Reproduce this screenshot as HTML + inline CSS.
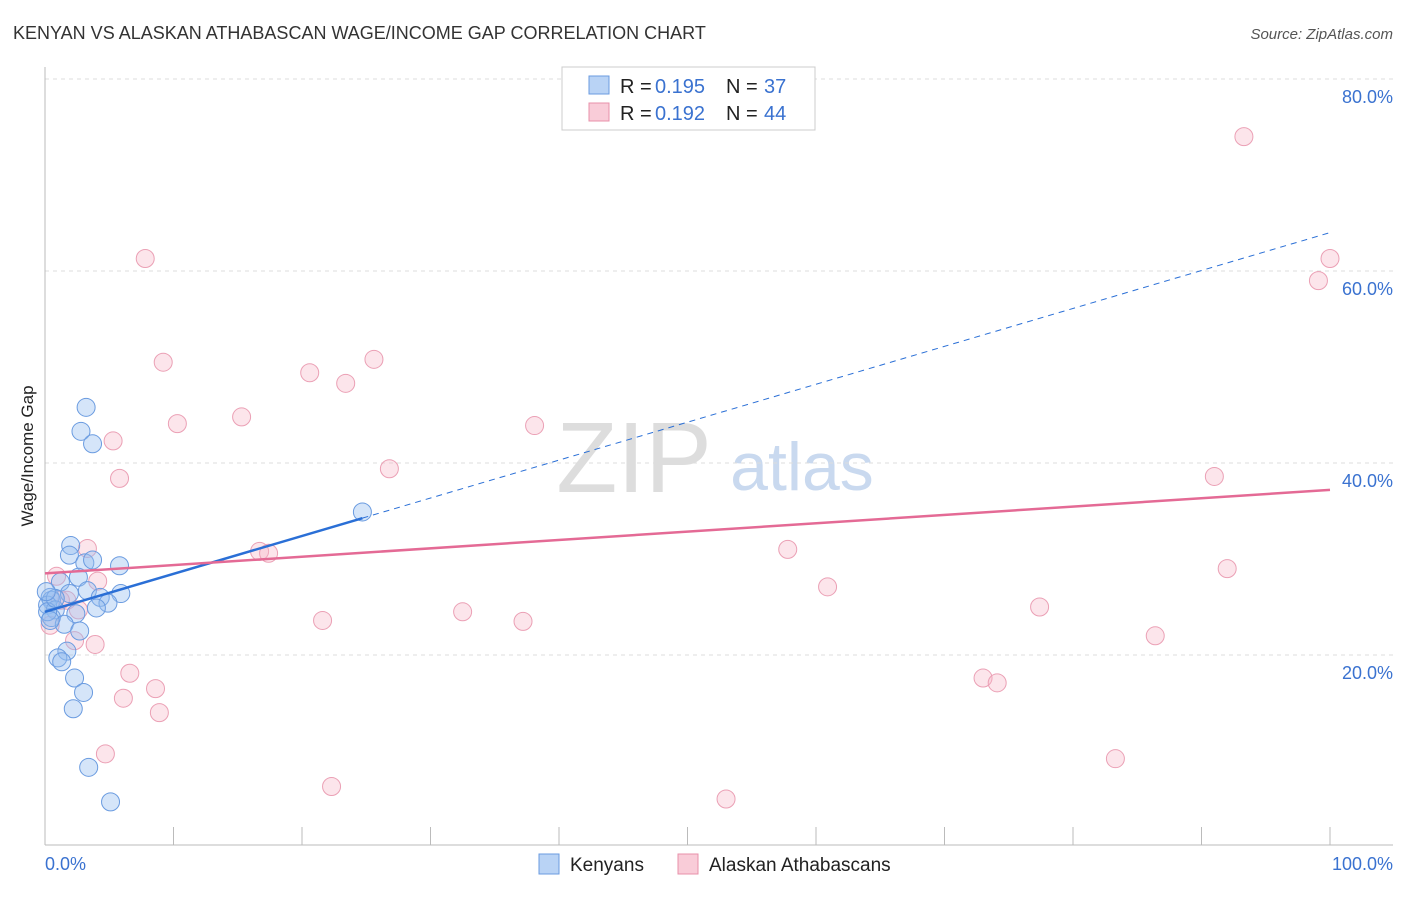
<!DOCTYPE html>
<html><head><meta charset="utf-8"><style>
body{margin:0;background:#fff;font-family:"Liberation Sans",sans-serif}
svg text{font-family:"Liberation Sans",sans-serif}
</style></head><body>
<svg id="c" width="1406" height="892">
<text x="13" y="39" font-size="18" fill="#333">KENYAN VS ALASKAN ATHABASCAN WAGE/INCOME GAP CORRELATION CHART</text>
<text x="1393" y="39" font-size="15" fill="#555" font-style="italic" text-anchor="end">Source: ZipAtlas.com</text>
<text x="33" y="456" font-size="17" fill="#222" text-anchor="middle" transform="rotate(-90 33 456)">Wage/Income Gap</text>
<text x="634" y="492" font-size="100" fill="#ddd" font-family="Liberation Serif" text-anchor="middle">ZIP</text>
<text x="802" y="490" font-size="68" fill="#c9d9ef" text-anchor="middle">atlas</text>
<g id="grid"></g><g id="marks"></g>
<g>
<rect x="562" y="67" width="253" height="63" fill="#fff" stroke="#ccc"/>
<rect x="589" y="76" width="20" height="18" fill="#b9d3f5" stroke="#6a9be0"/>
<text x="620" y="93" font-size="20" fill="#222">R = </text>
<text x="655" y="93" font-size="20" fill="#3a72d0">0.195</text>
<text x="726" y="93" font-size="20" fill="#222">N = </text>
<text x="764" y="93" font-size="20" fill="#3a72d0">37</text>
<rect x="589" y="103" width="20" height="18" fill="#f9ccd8" stroke="#e890aa"/>
<text x="620" y="120" font-size="20" fill="#222">R = </text>
<text x="655" y="120" font-size="20" fill="#3a72d0">0.192</text>
<text x="726" y="120" font-size="20" fill="#222">N = </text>
<text x="764" y="120" font-size="20" fill="#3a72d0">44</text>
</g>
<g>
<rect x="539" y="854" width="20" height="20" fill="#b9d3f5" stroke="#6a9be0"/>
<text x="570" y="871" font-size="19" fill="#222">Kenyans</text>
<rect x="678" y="854" width="20" height="20" fill="#f9ccd8" stroke="#e890aa"/>
<text x="709" y="871" font-size="19" fill="#222">Alaskan Athabascans</text>
</g>
</svg>
<script>
const kenX=[3.2,2.8,3.7,24.7,2.0,1.9,3.1,3.7,5.8,2.6,1.2,3.3,1.9,5.9,4.3,4.9,4.0,0.4,0.5,0.2,0.8,2.4,0.5,1.5,2.7,1.7,1.0,1.3,2.3,3.0,2.2,3.4,5.1,0.2,0.8,0.4,0.1];
const kenY=[45.8,43.3,42.0,34.9,31.4,30.4,29.6,29.9,29.3,28.1,27.6,26.7,26.4,26.4,26.0,25.4,24.9,26.0,25.7,25.2,24.7,24.3,23.9,23.2,22.5,20.4,19.7,19.3,17.6,16.1,14.4,8.3,4.7,24.5,25.9,23.6,26.6];
const athX=[7.8,9.2,10.3,15.3,20.6,23.4,25.6,26.8,38.1,5.3,5.8,3.3,4.1,16.7,17.4,0.9,1.7,2.6,2.3,3.9,6.6,6.1,8.6,8.9,4.7,21.6,22.3,32.5,37.2,53.0,57.8,60.9,73.0,74.1,77.4,83.3,86.4,91.0,92.0,93.3,99.1,100.0,0.4,1.2];
const athY=[61.3,50.5,44.1,44.8,49.4,48.3,50.8,39.4,43.9,42.3,38.4,31.1,27.7,30.8,30.6,28.2,25.7,24.7,21.5,21.1,18.1,15.5,16.5,14.0,9.7,23.6,6.3,24.5,23.5,5.0,31.0,27.1,17.6,17.1,25.0,9.2,22.0,38.6,29.0,74.0,59.0,61.3,23.1,25.7];
const yTicks=[20,40,60,80];
const xTickLabels=["0.0%","100.0%"];
const kenTrend=[24.5,64.0], athTrend=[28.5,37.2];
const X=v=>45+v*12.85, Y=v=>847-v*9.6;
const NS="http://www.w3.org/2000/svg";
function mk(t,a,p){const e=document.createElementNS(NS,t);for(const k in a)e.setAttribute(k,a[k]);p.appendChild(e);return e;}
const g=document.getElementById('grid'), m=document.getElementById('marks');
yTicks.forEach(t=>{
 const l=mk('line',{x1:45,x2:1393,y1:Y(t),y2:Y(t),stroke:'#ddd','stroke-dasharray':'4,4'},g);
 
 
 const tx=mk('text',{x:1393,y:Y(t)+24,'font-size':18,fill:'#3a72d0','text-anchor':'end'},g);
 tx.textContent=t.toFixed(1)+'%';
 
 
});
mk('line',{x1:45,x2:45,y1:67,y2:845,stroke:'#bbb'},g);
mk('line',{x1:45,x2:1393,y1:845,y2:845,stroke:'#bbb'},g);
for(let i=0;i<=10;i++){mk('line',{x1:X(i*10),x2:X(i*10),y1:827,y2:845,stroke:'#bbb'},g);}
const xl0=mk('text',{x:45,y:870,'font-size':18,fill:'#3a72d0'},g);xl0.textContent=xTickLabels[0];


const xl1=mk('text',{x:1393,y:870,'font-size':18,fill:'#3a72d0','text-anchor':'end'},g);xl1.textContent=xTickLabels[1];


athX.forEach((x,i)=>{const c=mk('circle',{cx:X(x),cy:Y(athY[i]),r:9,fill:'rgba(247,180,198,0.35)',stroke:'#eba0b5','stroke-width':1},m);
 
 });
kenX.forEach((x,i)=>{const c=mk('circle',{cx:X(x),cy:Y(kenY[i]),r:9,fill:'rgba(150,190,240,0.4)',stroke:'#6a9be0','stroke-width':1},m);
 
 });
const kv=x=>kenTrend[0]+(kenTrend[1]-kenTrend[0])*x/100;
const l1=mk('line',{x1:X(0),y1:Y(kv(0)),x2:X(24.7),y2:Y(kv(24.7)),stroke:'#2a6fd6','stroke-width':2.5},m);


const l2=mk('line',{x1:X(24.7),y1:Y(kv(24.7)),x2:X(100),y2:Y(kv(100)),stroke:'#2a6fd6','stroke-width':1,'stroke-dasharray':'6,5'},m);


const l3=mk('line',{x1:X(0),y1:Y(athTrend[0]),x2:X(100),y2:Y(athTrend[1]),stroke:'#e46a95','stroke-width':2.5},m);


</script>
</body></html>
